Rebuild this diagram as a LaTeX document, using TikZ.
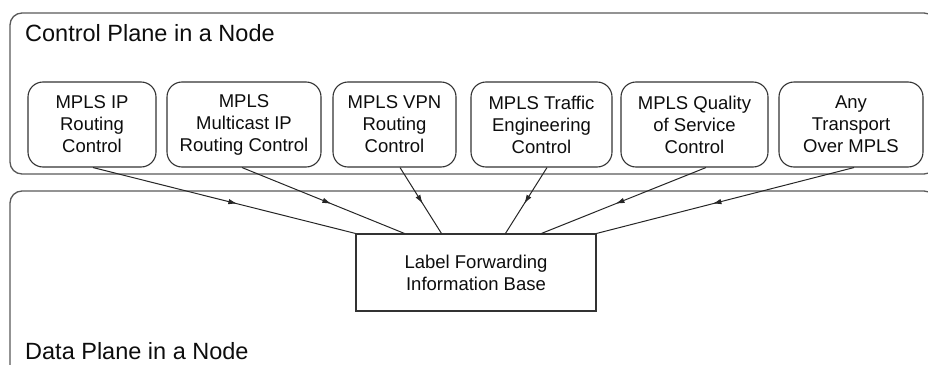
\documentclass[tikz,border=0pt]{standalone}
\usepackage{fontspec}
\setmainfont{Liberation Sans}
\usetikzlibrary{arrows.meta,decorations.markings}

\tikzset{
    plane/.style={draw=black!65, line width=1.3pt, rounded corners=12pt, inner sep=0pt},
    ctrlbox/.style={draw=black!80, line width=1.1pt, rounded corners=15pt, align=center,
        minimum height=85pt, inner sep=0pt, font=\fontsize{18.5}{22}\selectfont, text=black!95},
    fibbox/.style={draw=black!80, line width=1.1pt, align=center, minimum width=240pt,
        minimum height=77pt, inner sep=0pt, font=\fontsize{18.5}{22}\selectfont, text=black!95},
    planetitle/.style={anchor=base west, inner sep=0pt, font=\fontsize{23.5}{28}\selectfont, text=black!95},
    midarrow/.style={draw=black!85, line width=1pt, postaction={decorate},
        decoration={markings, mark=at position 0.55 with {\arrow{Latex[length=9pt,width=5.5pt]}}}}
}

\begin{document}
\begin{tikzpicture}[x=1pt, y=-1pt]
    \useasboundingbox (0,0) rectangle (928,364);
    \clip (0,0) rectangle (928,364);
    % the two planes
    \node[plane, minimum width=926pt, minimum height=161pt] (ctrlplane) at (473,93.5) {};
    \node[plane, minimum width=926pt, minimum height=189pt] (dataplane) at (473,285.5) {};
    \node[planetitle] (ctrltitle) at (25,41) {Control Plane in a Node};
    \node[planetitle] (datatitle) at (25,359) {Data Plane in a Node};
    % control modules
    \node[ctrlbox, minimum width=128pt] (iprc) at (92,124.5) {MPLS IP\\Routing\\Control};
    \node[ctrlbox, minimum width=154pt] (mcast) at (244,124.5) {MPLS\\Multicast IP\\Routing Control};
    \node[ctrlbox, minimum width=123pt] (vpn) at (394.5,124.5) {MPLS VPN\\Routing\\Control};
    \node[ctrlbox, minimum width=141pt] (te) at (541.5,124.5) {MPLS Traffic\\Engineering\\Control};
    \node[ctrlbox, minimum width=147pt] (qos) at (694.5,124.5) {MPLS Quality\\of Service\\Control};
    \node[ctrlbox, minimum width=144pt] (atom) at (851,124.5) {Any\\Transport\\Over MPLS};
    % forwarding table
    \node[fibbox] (lfib) at (476,272.5) {Label Forwarding\\Information Base};
    % connectors
    \draw[midarrow] ([xshift=1pt]iprc.south) -- (lfib.north west);
    \draw[midarrow] ([xshift=-2pt]mcast.south) -- ([xshift=49pt]lfib.north west);
    \draw[midarrow] ([xshift=5.5pt]vpn.south) -- ([xshift=86pt]lfib.north west);
    \draw[midarrow] ([xshift=5.5pt]te.south) -- ([xshift=150pt]lfib.north west);
    \draw[midarrow] ([xshift=11.5pt]qos.south) -- ([xshift=186pt]lfib.north west);
    \draw[midarrow] ([xshift=3pt]atom.south) -- (lfib.north east);
\end{tikzpicture}
\end{document}
